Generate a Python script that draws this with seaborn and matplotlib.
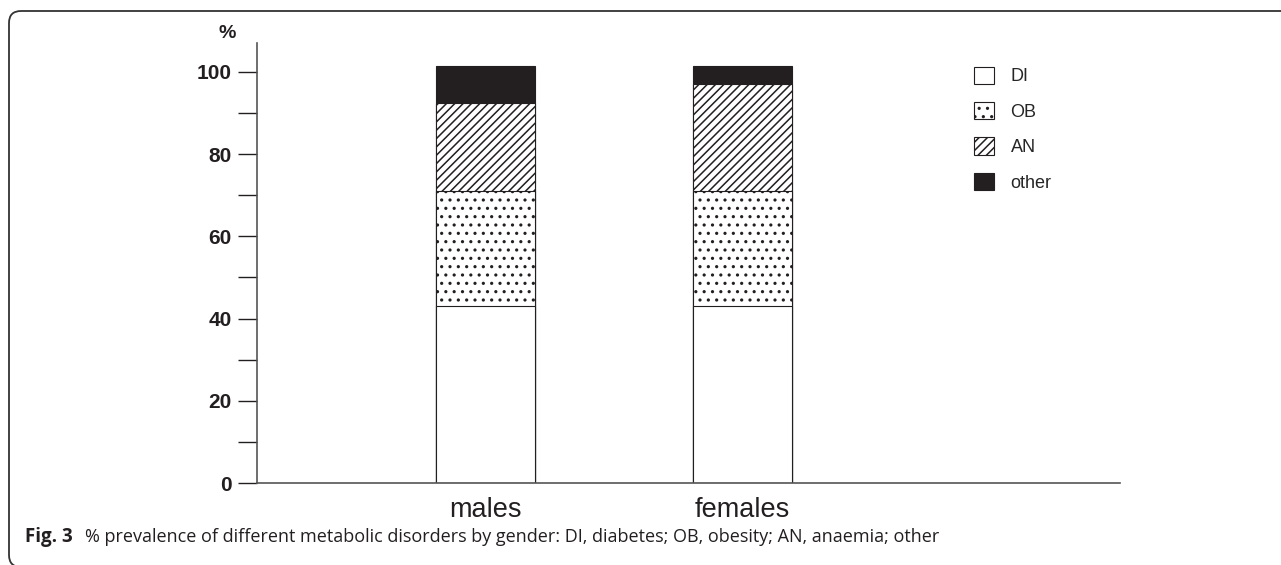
import numpy as np
import pandas as pd
import matplotlib
matplotlib.use("Agg")
import matplotlib.pyplot as plt
from matplotlib.patches import Patch, FancyBboxPatch
import seaborn as sns

# values (% of each gender)
genders = ["males", "females"]
di = [43.0, 43.0]
ob = [28.0, 28.0]
an = [21.5, 26.0]
other = [9.0, 4.5]
layers = ["DI", "OB", "AN", "other"]

sns.set_theme(style="white")
plt.rcParams["font.family"] = ["Liberation Sans", "DejaVu Sans"]
plt.rcParams["hatch.linewidth"] = 1.1
plt.rcParams["hatch.color"] = "#231f20"

df = pd.DataFrame({"gender": genders, "DI": di, "OB": ob, "AN": an, "other": other})
# cumulative heights, drawn top layer first so lower layers cover them
df["c_DI"] = df["DI"]
df["c_OB"] = df["c_DI"] + df["OB"]
df["c_AN"] = df["c_OB"] + df["AN"]
df["c_other"] = df["c_AN"] + df["other"]

styles = {
    "other": dict(color="#231f20", hatch=None),
    "AN": dict(color="white", hatch="////"),
    "OB": dict(color="white", hatch=".."),
    "DI": dict(color="white", hatch=None),
}

fig = plt.figure(figsize=(12.81, 5.65), dpi=100)
ax = fig.add_axes([0.2006, 0.1451, 0.6737, 0.7788])

for name in ["other", "AN", "OB", "DI"]:
    st = styles[name]
    sns.barplot(data=df, x="gender", y="c_" + name, color=st["color"], hatch=st["hatch"],
                edgecolor="#231f20", linewidth=0.8, width=0.385, saturation=1, ax=ax)

ax.set_xlim(-0.889, 2.47)
ax.set_ylim(0, 107)
ax.set_xlabel("")
ax.set_ylabel("")
ax.set_yticks(np.arange(0, 101, 20))
ax.set_yticks(np.arange(10, 100, 20), minor=True)
ax.set_yticklabels([str(v) for v in range(0, 101, 20)], fontsize=15, fontweight="bold",
                   color="#231f20")
ax.tick_params(axis="y", which="both", direction="out", length=13.7, width=1.0,
               color="#231f20", left=True, pad=4.3)
ax.tick_params(axis="x", length=0, labelsize=19.5, pad=10, colors="#231f20")
for s in ["top", "right"]:
    ax.spines[s].set_visible(False)
for s in ["left", "bottom"]:
    ax.spines[s].set_color("#555555")
    ax.spines[s].set_linewidth(1.2)
ax.text(-0.034, 1.003, "%", transform=ax.transAxes, fontsize=14, fontweight="bold",
        ha="center", va="bottom", color="#231f20")

handles = [Patch(facecolor=styles[n]["color"], edgecolor="#231f20", hatch=styles[n]["hatch"],
                 linewidth=0.8) for n in layers]
leg = fig.legend(handles, layers, loc="upper left", bbox_to_anchor=(0.755, 0.895), frameon=False,
                 fontsize=13, handlelength=1.1, handleheight=1.1, labelspacing=0.92,
                 handletextpad=0.9, borderaxespad=0)

fig.text(0.0195, 0.05, "Fig. 3", fontsize=13.5, fontweight="bold", color="#231f20",
         family=["Open Sans", "DejaVu Sans"], ha="left", va="center")
fig.text(0.0664, 0.05,
         "% prevalence of different metabolic disorders by gender: DI, diabetes; OB, obesity; AN, anaemia; other",
         fontsize=13, color="#231f20", family=["Open Sans", "DejaVu Sans"], ha="left", va="center")

# frame: only top and left edges are inside the image
fig.patches.append(FancyBboxPatch((0.09, -0.02), 13.0, 5.56, boxstyle="round,pad=0,rounding_size=0.12",
                                  transform=fig.dpi_scale_trans, facecolor="none",
                                  edgecolor="#333333", linewidth=1.3))

fig.savefig("out.png", dpi=100)
